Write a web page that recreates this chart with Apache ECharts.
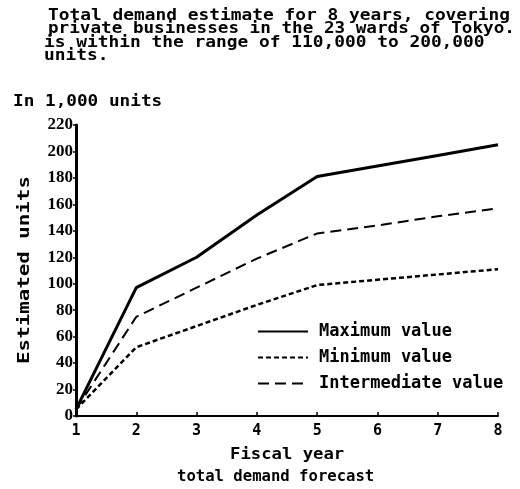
<!DOCTYPE html>
<html>
<head>
<meta charset="utf-8">
<script src="https://cdn.jsdelivr.net/npm/echarts@6/dist/echarts.min.js"></script>
<style>
  html, body { margin: 0; padding: 0; background: #fff; }
  #chart { width: 520px; height: 489px; }
</style>
</head>
<body>
<div id="chart"></div>
<script>
// Fiscal years on the horizontal axis
const years = [1, 2, 3, 4, 5, 6, 7, 8];
// Estimated units (in 1,000 units)
const maximumValues = [5, 97, 120, 152, 181, 189, 197, 205];
const minimumValues = [5, 52, 68, 84, 99, 103, 107, 111];
const intermediateValues = [5, 75, 97, 119, 138, 144, 151, 157];
// Vertical axis ticks
const yTicks = [0, 20, 40, 60, 80, 100, 120, 140, 160, 180, 200, 220];

const seriesNames = ['Maximum value', 'Minimum value', 'Intermediate value'];
const titleLines = [
  'Total demand estimate for 8 years, covering',
  'private businesses in the 23 wards of Tokyo.',
  'is within the range of 110,000 to 200,000',
  'units.'
];

const MONO_FAMILY = '"DejaVu Sans Mono"';
const MONO = 'bold 15px ' + MONO_FAMILY;
const pairs = vals => years.map((y, i) => [y, vals[i]]);

function monoText(text, x, y, sx, extra) {
  return Object.assign({
    type: 'text', x: x, y: y, scaleX: sx,
    style: { text: text, font: MONO, fill: '#000', textVerticalAlign: 'middle' }
  }, extra || {});
}

const graphics = [];
const titleY = [16, 29.5, 43, 56.5];
const titleX = [48, 48, 44, 44];
const titleScale = [1.19, 1.175, 1.19, 1.19];
titleLines.forEach((t, i) => graphics.push(monoText(t, titleX[i], titleY[i], titleScale[i])));
graphics.push(monoText('In 1,000 units', 13, 102, 1.18));
graphics.push(monoText('Fiscal year', 230, 455, 1.15));
graphics.push(monoText('total demand forecast', 177, 477, 1.04));
graphics.push({
  type: 'text', x: 25, y: 270, rotation: Math.PI / 2, scaleX: 1.3,
  style: { text: 'Estimated units', font: 'bold 16px ' + MONO_FAMILY, fill: '#000',
           textAlign: 'center', textVerticalAlign: 'middle' }
});

const chart = echarts.init(document.getElementById('chart'), null, { renderer: 'canvas' });
chart.setOption({
  backgroundColor: '#fff',
  animation: false,
  color: ['#000', '#000', '#000'],
  grid: { left: 76, right: 22, top: 125, bottom: 73 },
  xAxis: {
    type: 'value', min: years[0], max: years[years.length - 1], interval: 1,
    axisLine: { lineStyle: { color: '#000', width: 2 } },
    axisTick: { inside: true, length: 4, lineStyle: { color: '#000', width: 1.5 } },
    axisLabel: { color: '#000', fontFamily: MONO_FAMILY, fontWeight: 'bold', fontSize: 15, margin: 8 },
    splitLine: { show: false }
  },
  yAxis: {
    type: 'value', min: yTicks[0], max: yTicks[yTicks.length - 1], interval: 20,
    axisLine: { show: true, lineStyle: { color: '#000', width: 3 } },
    axisTick: { show: true, length: 3, lineStyle: { color: '#000', width: 1.5 } },
    axisLabel: {
      color: '#000', fontFamily: '"Liberation Serif"', fontWeight: 'bold', fontSize: 17, margin: 3
    },
    splitLine: { show: false }
  },
  legend: {
    orient: 'vertical', left: 257, top: 323, padding: 0,
    itemWidth: 50, itemHeight: 14, itemGap: 9,
    data: seriesNames,
    itemStyle: { opacity: 0 },
    textStyle: {
      color: '#000', fontFamily: MONO_FAMILY, fontWeight: 'bold', fontSize: 17,
      padding: [0, 0, 0, 6]
    }
  },
  series: [
    {
      name: seriesNames[0], type: 'line', data: pairs(maximumValues),
      symbol: 'none', itemStyle: { color: '#000' },
      lineStyle: { color: '#000', width: 3, type: 'solid' }
    },
    {
      name: seriesNames[1], type: 'line', data: pairs(minimumValues),
      symbol: 'none', itemStyle: { color: '#000' },
      lineStyle: { color: '#000', width: 2.5, type: [5, 3] }
    },
    {
      name: seriesNames[2], type: 'line', data: pairs(intermediateValues),
      symbol: 'none', itemStyle: { color: '#000' },
      lineStyle: { color: '#000', width: 2, type: [11, 6] }
    }
  ],
  graphic: graphics
});
</script>
</body>
</html>
